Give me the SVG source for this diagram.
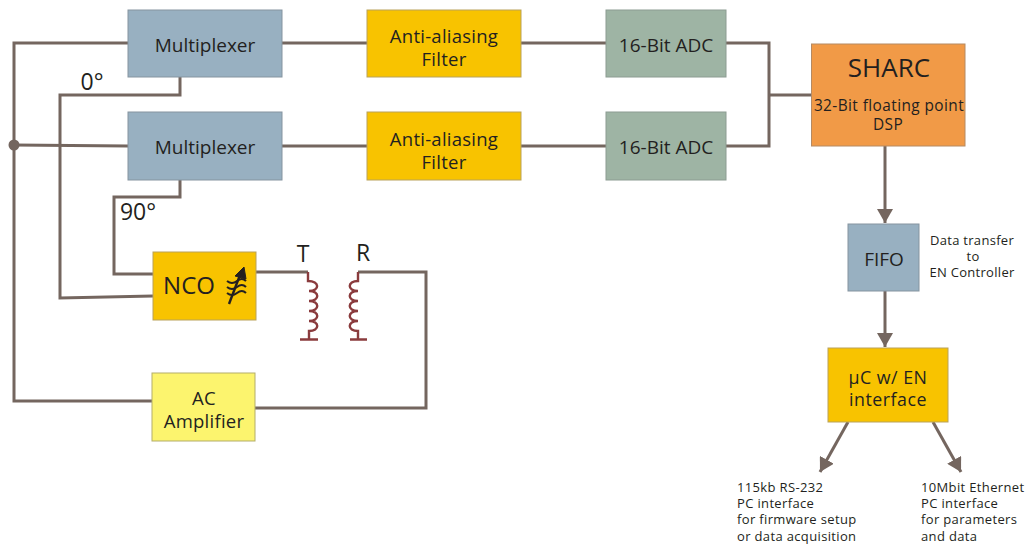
<svg xmlns="http://www.w3.org/2000/svg" width="1028" height="544" viewBox="0 0 1028 544">
<style>
text{font-family:"Open Sans","Noto Sans","DejaVu Sans",sans-serif;fill:#231f20;text-anchor:middle}
.blue{fill:#98b0c1;stroke:#85949f}
.yel{fill:#f8c300;stroke:#b9a25a}
.grn{fill:#9eb4a4;stroke:#8c9c92}
.w{fill:none;stroke:#74665f;stroke-width:3}
.c{fill:none;stroke:#8a3b3d;stroke-width:2.4}
.m{font-size:19px}
.f{font-size:18.500px;letter-spacing:.25px}
.u{font-size:17.800px;letter-spacing:.5px}
.d{font-size:15.400px;letter-spacing:.42px}
.s{font-size:13px;letter-spacing:.3px}
.l{text-anchor:start;font-size:13px;letter-spacing:.35px}
</style>
<defs><marker id="a" markerUnits="userSpaceOnUse" markerWidth="16" markerHeight="16" refX="14" refY="8" orient="auto"><path d="M0 0L14 8L0 16Z" fill="#74665f"/></marker></defs>
<g id="connectors">
<path class="w" d="M128 43H14V401H152"/>
<path class="w" d="M14 145L128 146"/>
<circle cx="14" cy="145" r="5.5" fill="#74665f"/>
<path class="w" d="M180 77V95H60V298L153 296"/>
<path class="w" d="M180 180V197H114V274H153"/>
<path class="w" d="M282 43H367M521 43H606M726 43H769V146H726M769 95H811"/>
<path class="w" d="M282 146H367M521 146H606"/>
<path class="w" d="M256 272H308M358 272H426V408L255 408"/>
<path class="w" marker-end="url(#a)" d="M885 146V223"/>
<path class="w" marker-end="url(#a)" d="M885 291V347"/>
<path class="w" marker-end="url(#a)" d="M848 422L820 472"/>
<path class="w" marker-end="url(#a)" d="M933 422L961 472"/>
</g>
<g id="mux1"><rect class="blue" x="128" y="10" width="154" height="67"/><text class="m" x="205" y="52">Multiplexer</text></g>
<g id="mux2"><rect class="blue" x="128" y="112" width="154" height="68"/><text class="m" x="205" y="154">Multiplexer</text></g>
<g id="filter1"><rect class="yel" x="367" y="10" width="154" height="67"/><text class="f" x="444" y="43">Anti-aliasing</text><text class="f" x="444" y="66">Filter</text></g>
<g id="filter2"><rect class="yel" x="367" y="112" width="154" height="68"/><text class="f" x="444" y="146">Anti-aliasing</text><text class="f" x="444" y="169">Filter</text></g>
<g id="adc1"><rect class="grn" x="606" y="10" width="120" height="67"/><text class="m" x="666" y="52">16-Bit ADC</text></g>
<g id="adc2"><rect class="grn" x="606" y="112" width="120" height="68"/><text class="m" x="666" y="154">16-Bit ADC</text></g>
<g id="sharc"><rect x="811.500" y="44" width="153.500" height="102" fill="#f19a47" stroke="#b58a63"/><text x="889" y="77" font-size="26">SHARC</text><text class="d" x="889" y="111">32-Bit floating point</text><text class="d" x="888" y="130">DSP</text></g>
<g id="fifo"><rect class="blue" x="848" y="224" width="71" height="67"/><text class="m" x="884" y="266">FIFO</text></g>
<g id="uc"><rect class="yel" x="828" y="348" width="120" height="74"/><text class="u" x="888" y="384">µC w/ EN</text><text class="u" x="888" y="406">interface</text></g>
<g id="nco"><rect class="yel" x="153" y="252" width="103" height="68"/><text x="189" y="294" font-size="24">NCO</text>
<path d="M229 304L240 275" fill="none" stroke="#231f20" stroke-width="2.400"/><path d="M244 267L246 279L235 276Z" fill="#231f20" stroke="#231f20"/><path d="M227 281Q232 285 237 281T246 281M227 287Q232 291 237 287T246 287M227 293Q232 297 237 293T246 293" fill="none" stroke="#231f20" stroke-width="2"/></g>
<g id="amp"><rect x="152" y="373" width="103" height="68" fill="#fcf46e" stroke="#b3ad6a"/><text class="f" x="204" y="405">AC</text><text class="f" x="204" y="428">Amplifier</text></g>
<g id="coil-t"><path class="c" d="M308 272V281C320 281 320 291 309 291C320 291 320 301 309 301C320 301 320 311 309 311C320 311 320 321 309 321C320 321 320 331 309 331V339M300 339.500H318"/></g>
<g id="coil-r"><path class="c" d="M358 272L358 281C347 281 347 291 358 291C347 291 347 301 358 301C347 301 347 311 358 311C347 311 347 321 358 321C347 321 347 331 358 331V339M350 339.500H367"/></g>
<g id="labels">
<text x="92" y="90" font-size="23">0°</text>
<text x="138" y="220" font-size="23">90°</text>
<text x="303" y="262" font-size="23">T</text>
<text x="363" y="261" font-size="23">R</text>
<text class="s" x="972" y="245">Data transfer</text><text class="s" x="973" y="261">to</text><text class="s" x="972" y="277">EN Controller</text>
<text class="l" x="737" y="492">115kb RS-232</text><text class="l" x="737" y="508">PC interface</text><text class="l" x="737" y="524">for firmware setup</text><text class="l" x="737" y="541">or data acquisition</text>
<text class="l" x="921" y="492">10Mbit Ethernet</text><text class="l" x="921" y="508">PC interface</text><text class="l" x="921" y="524">for parameters</text><text class="l" x="921" y="541">and data</text>
</g>
</svg>
